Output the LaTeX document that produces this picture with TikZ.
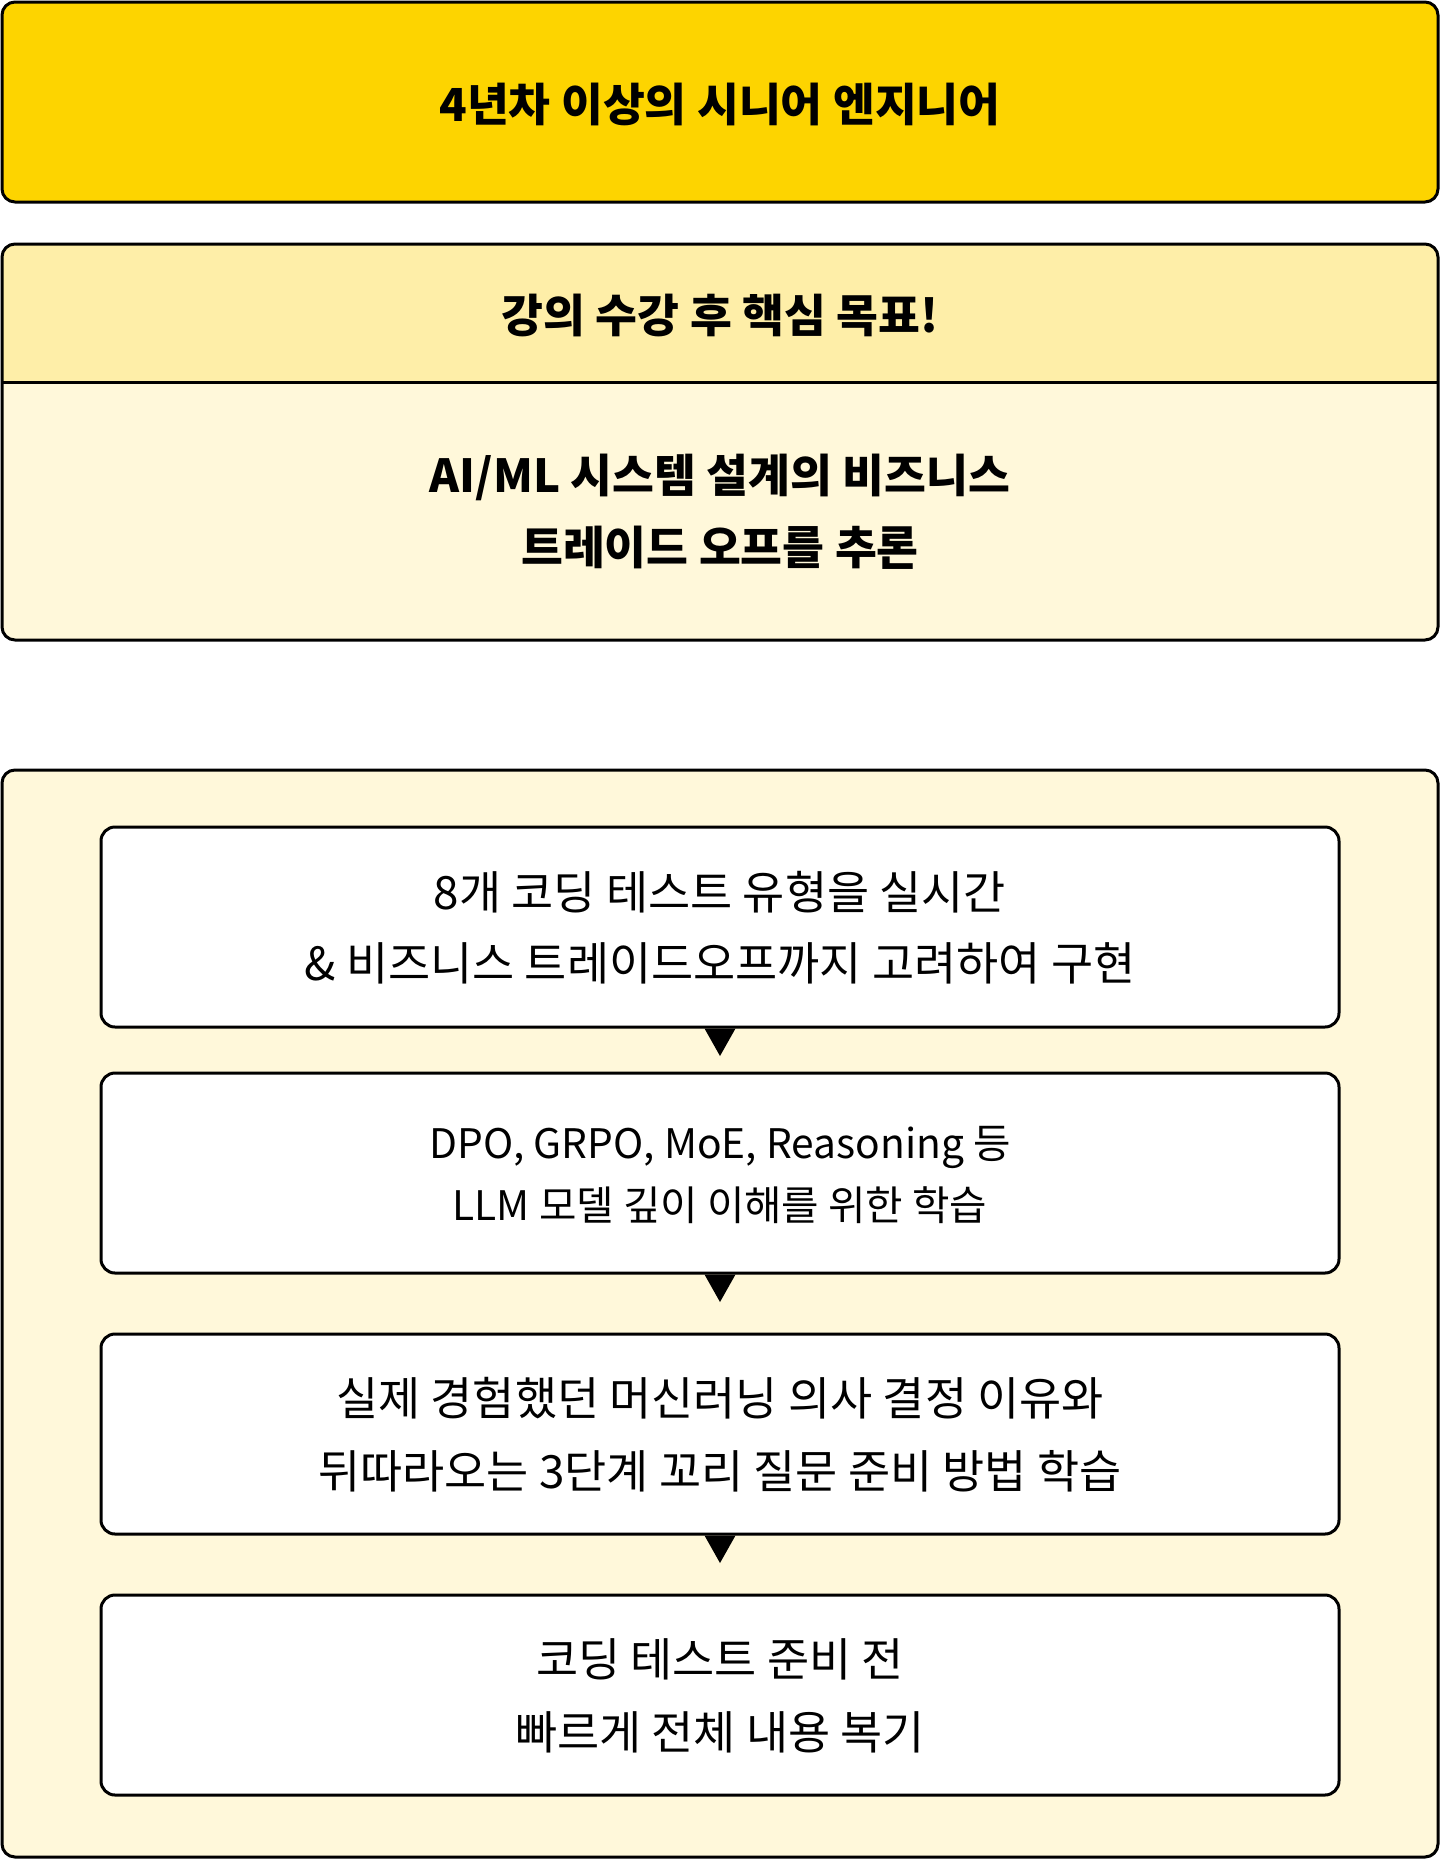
\documentclass[tikz,border=0pt]{standalone}
\usepackage{fontspec}
\setmainfont{Noto Sans CJK KR}
\usetikzlibrary{calc}
\definecolor{gold}{HTML}{FDD400}
\definecolor{headyel}{HTML}{FEEEA8}
\definecolor{paleyel}{HTML}{FFF8DA}
\tikzset{
  frame/.style={draw=black, line width=3pt, rounded corners=13pt},
  stepbox/.style={draw=black, line width=3pt, rounded corners=14pt, fill=white,
    minimum width=1238pt, minimum height=200pt, inner sep=0pt},
  txt/.style={align=center, inner sep=0pt, text=black},
  marker/.style={fill=black},
}
\begin{document}
\begin{tikzpicture}[x=1pt, y=-1pt]
\useasboundingbox (0,0) rectangle (1452,1872);
% top box
\node[frame, fill=gold, minimum width=1436pt, minimum height=200pt, inner sep=0pt] (top) at (720,102) {};
\node[txt, font=\fontsize{45.5}{50}\selectfont\bfseries] (toptxt) at (720,104) {4년차 이상의 시니어 엔지니어};
% goal box
\begin{scope}
  \clip[rounded corners=13pt] (2,244) rectangle (1438,640);
  \fill[paleyel] (2,244) rectangle (1438,640);
  \fill[headyel] (2,244) rectangle (1438,382);
\end{scope}
\node[frame, minimum width=1436pt, minimum height=396pt, inner sep=0pt] (goal) at (720,442) {};
\coordinate (dl) at (2,382);
\coordinate (dr) at (1438,382);
\draw[line width=3pt] (dl) -- (dr);
\node[txt, font=\fontsize{45.5}{50}\selectfont\bfseries] (head) at (720,315) {강의 수강 후 핵심 목표!};
\node[txt, font=\fontsize{45.5}{72}\selectfont\bfseries] (goaltxt) at (720,512) {AI/ML 시스템 설계의 비즈니스\\트레이드 오프를 추론};
% container
\node[frame, fill=paleyel, minimum width=1436pt, minimum height=1087pt, inner sep=0pt] (cont) at (720,1313.5) {};
% steps
\node[stepbox] (b1) at (720,927) {};
\node[stepbox] (b2) at (720,1173) {};
\node[stepbox] (b3) at (720,1434) {};
\node[stepbox] (b4) at (720,1695) {};
\node[txt, font=\fontsize{45.8}{71}\selectfont] (t1) at ($(b1)+(0,1)$) {8개 코딩 테스트 유형을 실시간\\\& 비즈니스 트레이드오프까지 고려하여 구현};
\node[txt, font=\fontsize{40.7}{62}\selectfont] (t2) at ($(b2)+(0,2)$) {DPO, GRPO, MoE, Reasoning 등\\LLM 모델 깊이 이해를 위한 학습};
\node[txt, font=\fontsize{45.8}{73}\selectfont] (t3) at ($(b3)+(0,1)$) {실제 경험했던 머신러닝 의사 결정 이유와\\뒤따라오는 3단계 꼬리 질문 준비 방법 학습};
\node[txt, font=\fontsize{45.8}{73}\selectfont] (t4) at ($(b4)+(0,1)$) {코딩 테스트 준비 전\\빠르게 전체 내용 복기};
% markers
\foreach \s in {b1,b2,b3}{
  \fill[marker] ($(\s.south)+(-15.5,0)$) -- ($(\s.south)+(15.5,0)$) -- ($(\s.south)+(0,27.5)$) -- cycle;
}
\end{tikzpicture}
\end{document}
